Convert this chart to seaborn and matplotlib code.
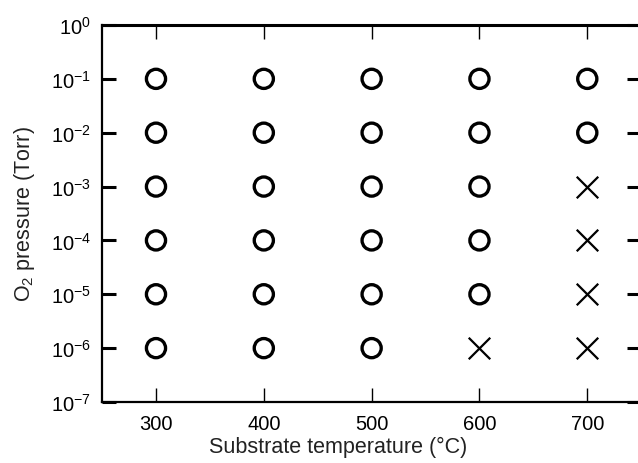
import matplotlib
matplotlib.use("Agg")
import matplotlib.pyplot as plt
import matplotlib.ticker as mticker
import seaborn as sns
import pandas as pd

temperatures = [300, 400, 500, 600, 700]
pressures = [1e-1, 1e-2, 1e-3, 1e-4, 1e-5, 1e-6]
# result grid: rows = pressures (high -> low), cols = temperatures
results = [
    ["O", "O", "O", "O", "O"],
    ["O", "O", "O", "O", "O"],
    ["O", "O", "O", "O", "X"],
    ["O", "O", "O", "O", "X"],
    ["O", "O", "O", "O", "X"],
    ["O", "O", "O", "X", "X"],
]
ytick_exps = [0, -1, -2, -3, -4, -5, -6, -7]
xticks = [300, 400, 500, 600, 700]

rows = []
for i, p in enumerate(pressures):
    for j, t in enumerate(temperatures):
        rows.append({"temp": t, "pressure": p, "result": results[i][j]})
df = pd.DataFrame(rows)

sns.set_theme(style="ticks")
plt.rcParams['font.family'] = ['Liberation Sans', 'DejaVu Sans']
plt.rcParams['mathtext.fontset'] = 'custom'
plt.rcParams['mathtext.rm'] = 'Liberation Sans'
plt.rcParams['mathtext.it'] = 'Liberation Sans:italic'

fig = plt.figure(figsize=(6.38, 4.64), dpi=100)
ax = fig.add_axes([0.16, 0.1315, 0.845, 0.8125])

sns.scatterplot(data=df[df.result == "O"], x="temp", y="pressure", ax=ax,
                marker="o", s=190, facecolor="none", edgecolor="black",
                linewidth=2.4, legend=False)
sns.scatterplot(data=df[df.result == "X"], x="temp", y="pressure", ax=ax,
                marker="x", s=240, color="black", linewidth=1.6, legend=False)

ax.set_yscale("log")
ax.set_xlim(250, 750)
ax.set_ylim(1e-7, 1e0)
ax.set_xticks(xticks)
ax.set_xticklabels([str(t) for t in xticks])
ax.set_yticks([10.0 ** e for e in ytick_exps])
ax.set_yticklabels([r"$10^{%d}$" % e if e == 0 else r"$10^{-%d}$" % (-e) for e in ytick_exps])
ax.yaxis.set_minor_locator(mticker.NullLocator())

ax.tick_params(axis="x", direction="in", length=10, width=1.0, top=True,
               labelsize=14.5, colors="black", pad=9)
ax.tick_params(axis="y", direction="in", length=10, width=2.2, right=True,
               labelsize=14.5, colors="black", pad=8)

for s in ["left", "bottom", "right"]:
    ax.spines[s].set_linewidth(1.6)
    ax.spines[s].set_color("black")
ax.spines["top"].set_linewidth(2.2)
ax.spines["top"].set_color("black")

ax.set_xlabel("Substrate temperature (°C)", fontsize=15.5, color="#222222",
              labelpad=2, x=0.438)
ax.set_ylabel("O$_2$ pressure (Torr)", fontsize=15.5, color="#222222", labelpad=10)

fig.savefig("out.png", dpi=100)
